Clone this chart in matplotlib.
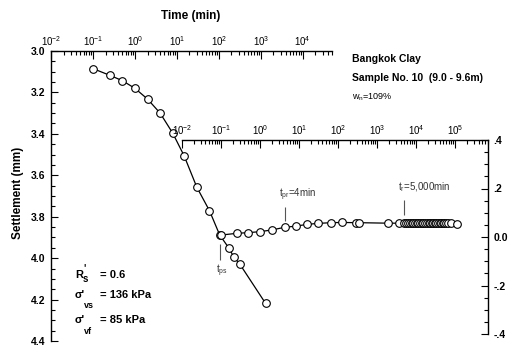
import matplotlib
matplotlib.use("Agg")
import matplotlib.pyplot as plt
from matplotlib.ticker import LogLocator, MultipleLocator, NullFormatter, FixedLocator, FixedFormatter

plt.rcParams['font.family'] = ['Liberation Sans', 'DejaVu Sans']
plt.rcParams['mathtext.default'] = 'regular'

# ============================
# DATA
# ============================

# settlement vs time, primary curve (main axes, top/left scales)
t_main = [0.1, 0.25, 0.5, 1, 2, 4, 8, 15, 30, 60, 105, 175, 230, 315, 1300]
s_main = [3.085, 3.117, 3.143, 3.180, 3.232, 3.300, 3.397, 3.507, 3.658, 3.771,
          3.888, 3.952, 3.996, 4.028, 4.218]

# secondary curve after unloading (inner axes, right scale)
t_sec = [0.1, 0.25, 0.5, 1, 2, 4.3, 8.5, 16, 30, 65, 130, 290, 350, 1900, 3700,
         5000, 5600, 6300, 7000, 7800, 8600, 9500, 10500, 11500, 12500, 14000,
         15500, 17000, 19000, 21000, 23000, 25000, 27500, 30000, 33000, 36000,
         40000, 44000, 48000, 53000, 58000, 65000, 79000, 110000]
v_sec = [0.008, 0.015, 0.018, 0.022, 0.029, 0.040, 0.045, 0.052, 0.056, 0.059,
         0.060, 0.059, 0.059, 0.057, 0.057,
         0.058, 0.058, 0.058, 0.058, 0.058, 0.058, 0.057, 0.057, 0.057, 0.057, 0.057,
         0.057, 0.057, 0.057, 0.057, 0.057, 0.056, 0.056, 0.056, 0.056, 0.056,
         0.056, 0.056, 0.056, 0.056, 0.056, 0.056, 0.056, 0.055]

main_yticks = [3.0, 3.2, 3.4, 3.6, 3.8, 4.0, 4.2, 4.4]
sec_yticks = [-0.4, -0.2, 0.0, 0.2, 0.4]
sec_ylabels = ["-.4", "-.2", "0.0", ".2", ".4"]

# ============================
# LAYOUT
# ============================

W, H = 518, 347
fig = plt.figure(figsize=(W / 100, H / 100), dpi=100)


def box(x0, y0, x1, y1):
    return [x0 / W, 1 - y1 / H, (x1 - x0) / W, (y1 - y0) / H]


def px(x, y):
    return x / W, 1 - y / H


ax = fig.add_axes(box(51, 51, 332, 341))
ax2 = fig.add_axes(box(182, 140, 488, 334))

# ----- main axes -----
ax.set_xscale('log')
ax.set_xlim(1e-2, 5e4)
ax.set_ylim(4.4, 3.0)
ax.patch.set_visible(False)
for sp in ['right', 'bottom']:
    ax.spines[sp].set_visible(False)
ax.xaxis.tick_top()
ax.xaxis.set_major_locator(LogLocator(base=10, numticks=20))
ax.xaxis.set_minor_locator(LogLocator(base=10, subs=range(2, 10), numticks=20))
ax.xaxis.set_minor_formatter(NullFormatter())
ax.tick_params(axis='x', which='both', direction='in', top=True, bottom=False,
               labelsize=7, pad=2, width=0.8)
ax.tick_params(axis='x', which='major', length=6)
ax.tick_params(axis='x', which='minor', length=3)

ax.yaxis.set_major_locator(FixedLocator(main_yticks))
ax.yaxis.set_minor_locator(MultipleLocator(0.05))
ax.set_yticklabels([f"{v:.1f}" for v in main_yticks], fontweight='bold')
ax.tick_params(axis='y', which='both', direction='in', left=True, right=False,
               labelsize=7.5, pad=4, width=0.8)
ax.tick_params(axis='y', which='major', length=5)
ax.tick_params(axis='y', which='minor', length=3)
for sp in ['left', 'top']:
    ax.spines[sp].set_linewidth(1.0)

ax.plot(t_main, s_main, color='black', lw=0.9, marker='o', ms=5.5,
        mfc='white', mec='black', mew=0.8, clip_on=False, zorder=3)

# ----- inner axes -----
ax2.set_xscale('log')
ax2.set_xlim(1e-2, 7e5)
ax2.set_ylim(-0.4, 0.4)
ax2.patch.set_visible(False)
for sp in ['left', 'bottom']:
    ax2.spines[sp].set_visible(False)
ax2.xaxis.tick_top()
ax2.xaxis.set_major_locator(LogLocator(base=10, numticks=20))
ax2.xaxis.set_minor_locator(LogLocator(base=10, subs=range(2, 10), numticks=20))
ax2.xaxis.set_minor_formatter(NullFormatter())
ax2.tick_params(axis='x', which='both', direction='in', top=True, bottom=False,
                labelsize=7, pad=2, width=0.8)
ax2.tick_params(axis='x', which='major', length=6)
ax2.tick_params(axis='x', which='minor', length=3)

ax2.yaxis.tick_right()
ax2.yaxis.set_major_locator(FixedLocator(sec_yticks))
ax2.yaxis.set_major_formatter(FixedFormatter(sec_ylabels))
ax2.yaxis.set_minor_locator(MultipleLocator(0.05))
for lab in ax2.get_yticklabels():
    lab.set_fontweight('bold')
ax2.tick_params(axis='y', which='both', direction='in', right=True, left=False,
                labelsize=7.5, pad=4, width=0.8)
ax2.tick_params(axis='y', which='major', length=5)
ax2.tick_params(axis='y', which='minor', length=3)
for sp in ['right', 'top']:
    ax2.spines[sp].set_linewidth(1.0)

ax2.plot(t_sec, v_sec, color='black', lw=0.9, marker='o', ms=5.5,
         mfc='white', mec='black', mew=0.8, clip_on=False, zorder=3)

# ----- marker annotations -----
grey = '#555555'
ax2.vlines(4.3, 0.066, 0.124, color=grey, lw=0.8)
ax2.vlines(5000, 0.09, 0.153, color=grey, lw=0.8)
ax.vlines(105, 3.93, 4.008, color=grey, lw=0.8)
fig.text(*px(279, 195), "$t_{pr}$=4min", fontsize=7, color='#333333', va='center')
fig.text(*px(398, 187), "$t_{r}$=5,000min", fontsize=7, color='#333333', va='center')
fig.text(*px(216, 271), "$t_{ps}$", fontsize=7, color='#333333', va='center')

# ----- titles -----
fig.text(*px(191, 16), "Time (min)", fontsize=8.5, fontweight='bold',
         ha='center', va='center')
fig.text(*px(18, 193), "Settlement (mm)", fontsize=8.5, fontweight='bold',
         ha='center', va='center', rotation=90)

fig.text(*px(352, 59), "Bangkok Clay", fontsize=7.5, fontweight='bold', va='center')
fig.text(*px(352, 78), "Sample No. 10  (9.0 - 9.6m)", fontsize=7.5,
         fontweight='bold', va='center')
fig.text(*px(352, 97), "$w_{n}$=109%", fontsize=6.5, va='center')

# ----- parameter block -----
fig.text(*px(75, 275), "R", fontsize=8, fontweight='bold', va='center')
fig.text(*px(83, 268), "'", fontsize=7, fontweight='bold', va='center')
fig.text(*px(83, 279), "s", fontsize=7, fontweight='bold', va='center')
fig.text(*px(100, 275), "= 0.6", fontsize=8, fontweight='bold', va='center')

fig.text(*px(75, 295), "σ'", fontsize=8, fontweight='bold', va='center')
fig.text(*px(84, 306), "vs", fontsize=6.5, fontweight='bold', va='center')
fig.text(*px(100, 295), "= 136 kPa", fontsize=8, fontweight='bold', va='center')

fig.text(*px(75, 320), "σ'", fontsize=8, fontweight='bold', va='center')
fig.text(*px(84, 332), "vf", fontsize=6.5, fontweight='bold', va='center')
fig.text(*px(100, 320), "= 85 kPa", fontsize=8, fontweight='bold', va='center')

fig.savefig("out.png", dpi=100)
